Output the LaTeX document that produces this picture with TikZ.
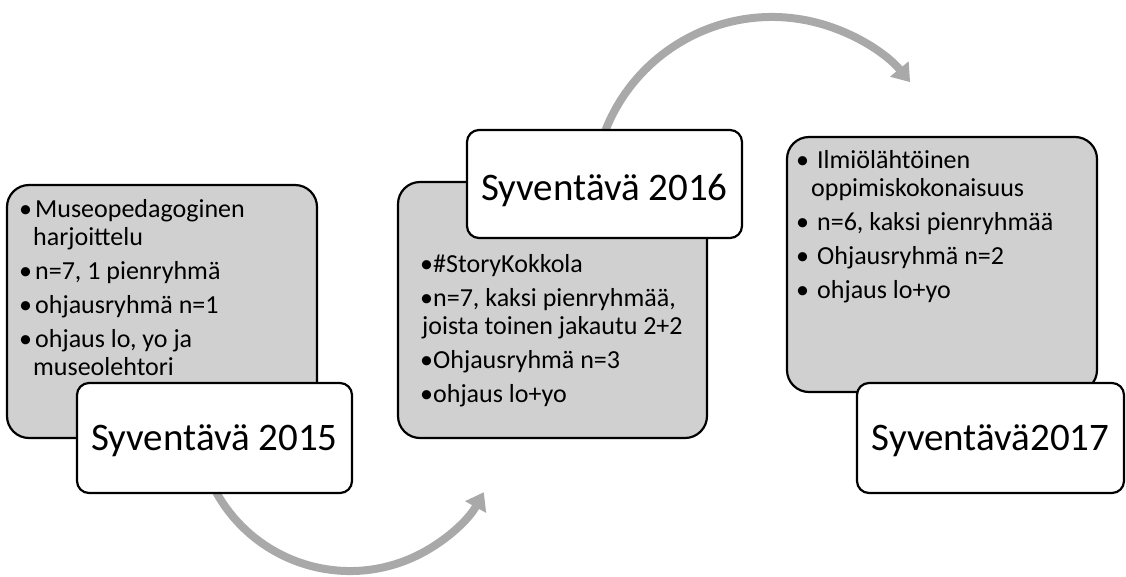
\documentclass[tikz,border=0pt]{standalone}
\usepackage{fontspec}
\setmainfont{Carlito}
\usetikzlibrary{arrows.meta,calc}
\definecolor{panelgray}{HTML}{D0D0D0}
\definecolor{loopgray}{HTML}{A9A9A9}
% bullet set in a box of fixed width
\newcommand{\ibullet}[1]{\makebox[#1][l]{•}}
\begin{document}
\begin{tikzpicture}[x=1pt,y=-1pt,
  panel/.style={draw=black, line width=2.2pt, fill=panelgray,
    rounded corners=22pt, inner sep=0pt},
  yearbox/.style={draw=black, line width=2.2pt, fill=white,
    rounded corners=12pt, inner sep=0pt,
    font=\fontsize{39}{47}\selectfont, text height=32pt, text depth=8pt},
  itemtext/.style={anchor=base west, inner sep=0pt,
    font=\fontsize{26}{28}\selectfont},
  loop/.style={draw=loopgray, line width=8pt,
    -{Triangle[length=17pt,width=23pt]}}]
\useasboundingbox (0,0) rectangle (1126,576);

% centres of the two curved arrows
\coordinate (lowc) at (350,418);
\coordinate (highc) at (772,196);

\draw[loop] ($(lowc)+(155:153)$) arc[start angle=155, end angle=29, radius=153];
\draw[loop] ($(highc)+(195:179)$) arc[start angle=195, end angle=320.5, radius=179];

% grey content panels
\node[panel, minimum width=310pt, minimum height=253pt] (b1) at (162,311.5) {};
\node[panel, minimum width=309pt, minimum height=256pt] (b2) at (552.5,310) {};
\node[panel, minimum width=310pt, minimum height=255pt] (b3) at (942,264.5) {};

% panel texts
\node[itemtext] (t1) at (19,217) {\begin{tabular}[t]{@{}l@{}}
\ibullet{16pt}Museopedagoginen\\
\hspace*{14pt}harjoittelu\\[6pt]
\ibullet{16pt}n=7, 1 pienryhmä\\[6pt]
\ibullet{16pt}ohjausryhmä n=1\\[6pt]
\ibullet{16pt}ohjaus lo, yo ja\\
\hspace*{14pt}museolehtori
\end{tabular}};

\node[itemtext] (t2) at (420,272) {\begin{tabular}[t]{@{}l@{}}
\ibullet{13pt}\#StoryKokkola\\[6pt]
\ibullet{13pt}n=7, kaksi pienryhmää,\\
\hspace*{2pt}joista toinen jakautu 2+2\\[6pt]
\ibullet{13pt}Ohjausryhmä n=3\\[6pt]
\ibullet{13pt}ohjaus lo+yo
\end{tabular}};

\node[itemtext] (t3) at (796,168) {\begin{tabular}[t]{@{}l@{}}
\ibullet{21pt}Ilmiölähtöinen\\
\hspace*{15pt}oppimiskokonaisuus\\[6pt]
\ibullet{21pt}n=6, kaksi pienryhmää\\[6pt]
\ibullet{21pt}Ohjausryhmä n=2\\[6pt]
\ibullet{21pt}ohjaus lo+yo
\end{tabular}};

% year labels
\node[yearbox, minimum width=275pt, minimum height=110pt] (l1) at (214.5,438) {Syventävä 2015};
\node[yearbox, minimum width=275pt, minimum height=108pt, text depth=0pt] (l2) at (604.5,184) {Syventävä 2016};
\node[yearbox, minimum width=267pt, minimum height=110pt] (l3) at (990.5,438) {Syventävä2017};
\end{tikzpicture}
\end{document}
